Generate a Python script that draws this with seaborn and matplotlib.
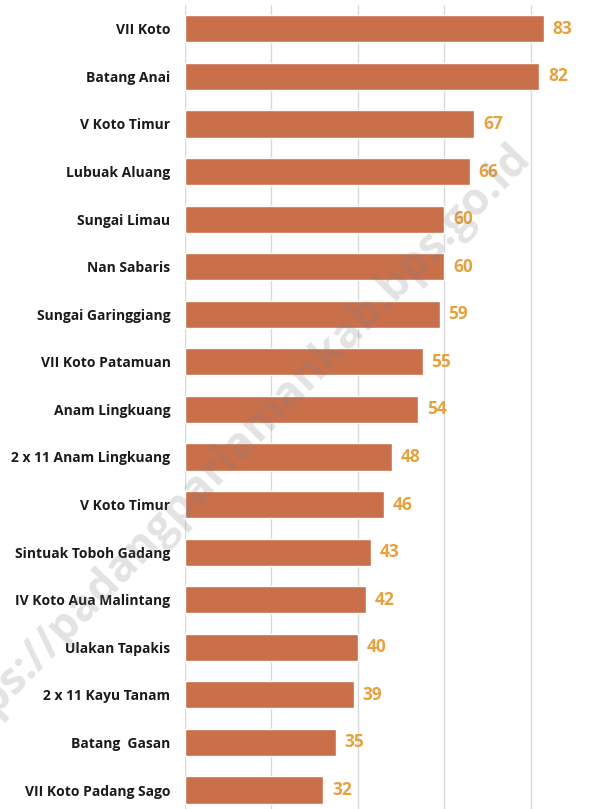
import pandas as pd
import seaborn as sns
import matplotlib.pyplot as plt

kecamatan = ['VII Koto', 'Batang Anai', 'V Koto Timur', 'Lubuak Aluang', 'Sungai Limau',
             'Nan Sabaris', 'Sungai Garinggiang', 'VII Koto Patamuan', 'Anam Lingkuang',
             '2 x 11 Anam Lingkuang', 'V Koto Timur', 'Sintuak Toboh Gadang',
             'IV Koto Aua Malintang', 'Ulakan Tapakis', '2 x 11 Kayu Tanam',
             'Batang  Gasan', 'VII Koto Padang Sago']
nilai = [83, 82, 67, 66, 60, 60, 59, 55, 54, 48, 46, 43, 42, 40, 39, 35, 32]

# nama kecamatan ada yang dobel (V Koto Timur), jadi pakai nomor urut sbg kategori
df = pd.DataFrame({'urut': [str(i) for i in range(len(nilai))], 'nilai': nilai})

sns.set_style('white')
plt.rcParams['font.family'] = ['Open Sans', 'DejaVu Sans']

fig = plt.figure(figsize=(6.08, 8.09), dpi=100)
ax = fig.add_axes([185/608, 0, 1 - 185/608, 1 - 5/809])

sns.barplot(data=df, y='urut', x='nilai', color='#C96F4A', width=0.57,
            saturation=1, ax=ax, orient='h')

ax.set_xlim(0, 97.9)
ax.set_ylim(16 + 19/47.6, -0.5)
ax.set_xticks([0, 20, 40, 60, 80])
ax.xaxis.grid(True, color='#D9D9D9', linewidth=1)
ax.set_axisbelow(True)
for s in ax.spines.values():
    s.set_visible(False)
ax.set_xticklabels([])
ax.set_yticks(range(len(kecamatan)))
ax.set_yticklabels(kecamatan, fontweight='bold', fontsize=10, color='#1A1A1A')
ax.tick_params(axis='x', length=0)
ax.tick_params(axis='y', length=0, pad=10.5)
ax.set_xlabel('')
ax.set_ylabel('')

for i, v in enumerate(nilai):
    ax.text(v + 2.0, i, str(v), va='center', ha='left', fontsize=12.5,
            fontweight='bold', color='#E5A23E')

# watermark
fig.text(0.38, 0.44, 'https://padangpariamankab.bps.go.id', rotation=46,
         ha='center', va='center', fontsize=32, fontweight='bold',
         color='#808080', alpha=0.22)

fig.savefig('out.png', dpi=100)
